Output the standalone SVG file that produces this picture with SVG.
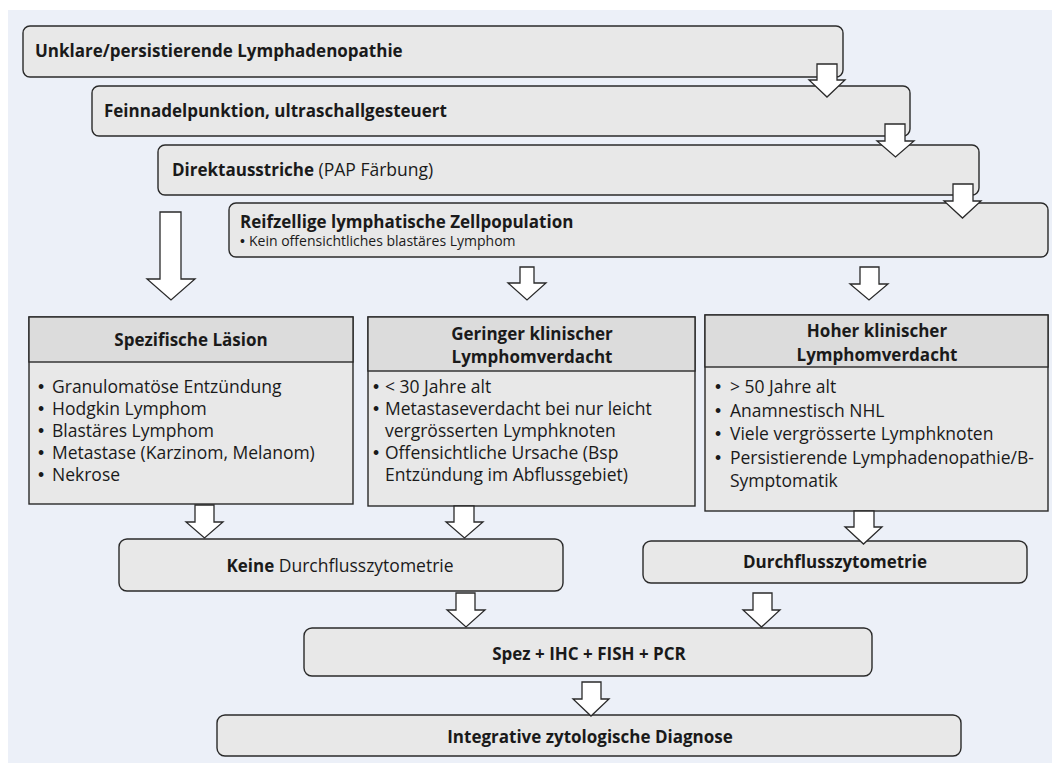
<svg xmlns="http://www.w3.org/2000/svg" width="1052" height="764" viewBox="0 0 1052 764">
<style>
.box{fill:#e8e8e8;stroke:#2a2a2a;stroke-width:1.4}
.hdr{fill:#dcdcdc;stroke:#2a2a2a;stroke-width:1.4}
.arr{fill:#ffffff;stroke:#2a2a2a;stroke-width:1.3;stroke-linejoin:miter}
text{font-family:"Open Sans","Noto Sans","Liberation Sans",sans-serif;fill:#1a1a1a}
.b{font-weight:bold;font-size:17px}
.r{font-size:17.5px}
.s{font-size:14px}
.c{text-anchor:middle}
.bu{font-family:"Liberation Sans",sans-serif}
</style>
<rect x="8" y="10" width="1044" height="753" fill="#ecf0f8"/>

<g id="n1"><rect class="box" x="23" y="26" width="820" height="51" rx="7"/>
<text class="b" x="35" y="57">Unklare/persistierende Lymphadenopathie</text></g>
<g id="n2"><rect class="box" x="92" y="86" width="818" height="50" rx="7"/>
<text class="b" x="104" y="117">Feinnadelpunktion, ultraschallgesteuert</text></g>
<g id="n3"><rect class="box" x="158" y="145" width="821" height="50" rx="7"/>
<text x="172" y="176"><tspan class="b">Direktausstriche</tspan><tspan class="r"> (PAP Färbung)</tspan></text></g>
<g id="n4"><rect class="box" x="229" y="203" width="819" height="54" rx="7"/>
<text class="b" x="240" y="228">Reifzellige lymphatische Zellpopulation</text>
<text class="s" x="240" y="246"><tspan class="bu">•</tspan><tspan x="249">Kein offensichtliches blastäres Lymphom</tspan></text></g>

<g id="n5"><rect class="box" x="29" y="317" width="324" height="187"/>
<rect class="hdr" x="29" y="317" width="324" height="45"/>
<text class="b c" x="191" y="346">Spezifische Läsion</text>
<g class="r">
<text x="38" y="393"><tspan class="bu">•</tspan><tspan x="52">Granulomatöse Entzündung</tspan></text>
<text x="38" y="415"><tspan class="bu">•</tspan><tspan x="52">Hodgkin Lymphom</tspan></text>
<text x="38" y="437"><tspan class="bu">•</tspan><tspan x="52">Blastäres Lymphom</tspan></text>
<text x="38" y="459"><tspan class="bu">•</tspan><tspan x="52">Metastase (Karzinom, Melanom)</tspan></text>
<text x="38" y="481"><tspan class="bu">•</tspan><tspan x="52">Nekrose</tspan></text>
</g></g>

<g id="n6"><rect class="box" x="368" y="317" width="327" height="189"/>
<rect class="hdr" x="368" y="317" width="327" height="54"/>
<text class="b c" x="532" y="340">Geringer klinischer</text>
<text class="b c" x="532" y="363">Lymphomverdacht</text>
<g class="r">
<text x="373" y="393"><tspan class="bu">•</tspan><tspan x="385">&lt; 30 Jahre alt</tspan></text>
<text x="373" y="415"><tspan class="bu">•</tspan><tspan x="385">Metastaseverdacht bei nur leicht</tspan></text>
<text x="385" y="437">vergrösserten Lymphknoten</text>
<text x="373" y="459"><tspan class="bu">•</tspan><tspan x="385">Offensichtliche Ursache (Bsp</tspan></text>
<text x="385" y="481">Entzündung im Abflussgebiet)</text>
</g></g>

<g id="n7"><rect class="box" x="705" y="315" width="343" height="196"/>
<rect class="hdr" x="705" y="315" width="343" height="52"/>
<text class="b c" x="877" y="337">Hoher klinischer</text>
<text class="b c" x="877" y="361">Lymphomverdacht</text>
<g class="r">
<text x="715" y="393"><tspan class="bu">•</tspan><tspan x="730">&gt; 50 Jahre alt</tspan></text>
<text x="715" y="416.5"><tspan class="bu">•</tspan><tspan x="730">Anamnestisch NHL</tspan></text>
<text x="715" y="440"><tspan class="bu">•</tspan><tspan x="730">Viele vergrösserte Lymphknoten</tspan></text>
<text x="715" y="463.5"><tspan class="bu">•</tspan><tspan x="730">Persistierende Lymphadenopathie/B-</tspan></text>
<text x="730" y="487">Symptomatik</text>
</g></g>

<g id="n8"><rect class="box" x="119" y="539" width="444" height="52" rx="8"/>
<text class="c" x="340" y="572"><tspan class="b">Keine</tspan><tspan class="r"> Durchflusszytometrie</tspan></text></g>
<g id="n9"><rect class="box" x="643" y="541" width="384" height="42" rx="8"/>
<text class="b c" x="835" y="568">Durchflusszytometrie</text></g>
<g id="n10"><rect class="box" x="304" y="628" width="568" height="48" rx="8"/>
<text class="b c" x="589" y="660">Spez + IHC + FISH + PCR</text></g>
<g id="n11"><rect class="box" x="217" y="715" width="744" height="41" rx="8"/>
<text class="b c" x="590" y="743">Integrative zytologische Diagnose</text></g>

<g id="connectors">
<path class="arr" d="M817,64 H837 V80 H845 L827,97 L809,80 H817 Z"/>
<path class="arr" d="M885,124 H905 V141 H914 L895.5,157 L877,141 H885 Z"/>
<path class="arr" d="M953,184 H973 V201 H981 L962.5,218 L944,201 H953 Z"/>
<path class="arr" d="M160,212 H181 V279 H195 L171,300 L147,279 H160 Z"/>
<path class="arr" d="M520,267 H534 V283 H546 L527,300 L508,283 H520 Z"/>
<path class="arr" d="M860,267 H879 V284 H888 L869,300 L850,284 H860 Z"/>
<path class="arr" d="M195,505 H214 V522 H223 L204.5,538 L186,522 H195 Z"/>
<path class="arr" d="M454,506 H474 V522 H483 L464.5,538 L446,522 H454 Z"/>
<path class="arr" d="M854,511 H874 V527 H882 L863.5,544 L845,527 H854 Z"/>
<path class="arr" d="M456,593 H475 V610 H485 L466,627 L447,610 H456 Z"/>
<path class="arr" d="M753,593 H772 V610 H780 L761.5,627 L743,610 H753 Z"/>
<path class="arr" d="M582,682 H601 V699 H609 L591,716 L573,699 H582 Z"/>
</g>
</svg>
